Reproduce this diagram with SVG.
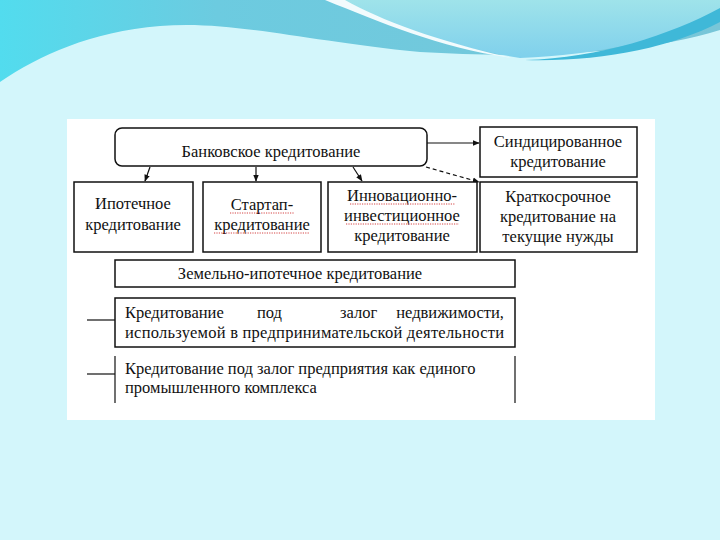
<svg xmlns="http://www.w3.org/2000/svg" width="720" height="540" viewBox="0 0 720 540">
<defs>
<linearGradient id="wave" x1="0" y1="0" x2="1" y2="0">
<stop offset="0" stop-color="#52dcee"/>
<stop offset="0.3" stop-color="#6ccbe0"/>
<stop offset="1" stop-color="#78c6d8"/>
</linearGradient>
<linearGradient id="blob" x1="0" y1="0" x2="0" y2="1">
<stop offset="0" stop-color="#9fe3ea"/>
<stop offset="1" stop-color="#7fd0ec"/>
</linearGradient>
<marker id="ah" viewBox="0 0 10 10" refX="9" refY="5" markerWidth="7" markerHeight="7" orient="auto" markerUnits="userSpaceOnUse">
<path d="M0,1 L10,5 L0,9 z" fill="#111"/>
</marker>
<style>
.box{fill:#fff;stroke:#111;stroke-width:1.5}
text{font-family:'Times New Roman','Liberation Serif',Tinos,'DejaVu Serif',serif;font-size:16.5px;fill:#111}
.t{text-anchor:middle}
.ln{stroke:#111;stroke-width:1.2;fill:none}
.sq{stroke:#d03030;stroke-width:0.9;fill:none;stroke-dasharray:1.2 1.2}
</style>
</defs>
<rect x="0" y="0" width="720" height="540" fill="#d3f6fb"/>
<path d="M0,0 H720 V30 C640,55 520,58 420,52 C300,40 230,20 160,26 C90,32 40,55 0,82 Z" fill="url(#wave)"/>
<path d="M330,0 H720 V18 C660,40 600,55 520,58 C440,45 380,20 330,0 Z" fill="url(#blob)"/>
<path d="M325,0 C380,22 440,48 512,58 C440,42 380,20 345,0 Z" fill="#f2fbfd"/>
<path d="M525,60 C600,58 670,35 720,8 V22 C670,48 600,62 525,60 Z" fill="#3fb8d8"/>
<rect x="67" y="119" width="588" height="301" fill="#fff"/>

<g id="connectors">
<line class="ln" x1="150" y1="167" x2="145" y2="181" marker-end="url(#ah)"/>
<line class="ln" x1="256" y1="167" x2="256" y2="181" marker-end="url(#ah)"/>
<line class="ln" x1="353" y1="167" x2="362" y2="181" marker-end="url(#ah)"/>
<line class="ln" x1="427" y1="143" x2="479" y2="143" marker-end="url(#ah)"/>
<line class="ln" x1="426" y1="167" x2="479" y2="182" stroke-dasharray="4 3" marker-end="url(#ah)"/>
<line class="ln" x1="87" y1="320" x2="115" y2="320"/>
<line class="ln" x1="87" y1="374" x2="115" y2="374"/>
</g>

<g id="bank">
<rect class="box" x="115" y="128" width="312" height="38" rx="7" stroke-width="2.2"/>
<text class="t" x="271" y="157">Банковское кредитование</text>
</g>
<g id="synd">
<rect class="box" x="480" y="127" width="157" height="50"/>
<text class="t" x="558" y="147">Синдицированное</text>
<text class="t" x="558" y="167">кредитование</text>
</g>
<g id="ipot">
<rect class="box" x="74" y="182" width="119" height="70"/>
<text class="t" x="133" y="209">Ипотечное</text>
<text class="t" x="133" y="230">кредитование</text>
</g>
<g id="startup">
<rect class="box" x="203" y="182" width="118" height="70"/>
<text class="t" x="262" y="210">Стартап-</text>
<text class="t" x="262" y="230">кредитование</text>
<path class="sq" d="M230,213 H294 M214,233 H310"/>
</g>
<g id="innov">
<rect class="box" x="328" y="182" width="149" height="70"/>
<text class="t" x="402" y="201">Инновационно-</text>
<text class="t" x="402" y="221">инвестиционное</text>
<text class="t" x="402" y="241">кредитование</text>
<path class="sq" d="M350,204 H455 M346,224 H459"/>
</g>
<g id="short">
<rect class="box" x="480" y="182" width="157" height="70"/>
<text class="t" x="558" y="202">Краткосрочное</text>
<text class="t" x="558" y="222">кредитование на</text>
<text class="t" x="558" y="242">текущие нужды</text>
</g>
<g id="land">
<rect class="box" x="115" y="260" width="400" height="27"/>
<text class="t" x="300" y="279" font-size="15">Земельно-ипотечное кредитование</text>
</g>
<g id="realty">
<rect class="box" x="115" y="298" width="400" height="49"/>
<text x="125" y="318">Кредитование</text>
<text x="257" y="318">под</text>
<text x="340" y="318">залог</text>
<text x="504" y="318" text-anchor="end">недвижимости,</text>
<text x="125" y="338" textLength="379" lengthAdjust="spacing">используемой в предпринимательской деятельности</text>
</g>
<g id="enterprise">
<line class="ln" x1="115" y1="356" x2="115" y2="403" stroke-width="1.5"/>
<line class="ln" x1="515" y1="356" x2="515" y2="403" stroke-width="1.5"/>
<text x="125" y="374">Кредитование под залог предприятия как единого</text>
<text x="125" y="393">промышленного комплекса</text>
</g>
</svg>
